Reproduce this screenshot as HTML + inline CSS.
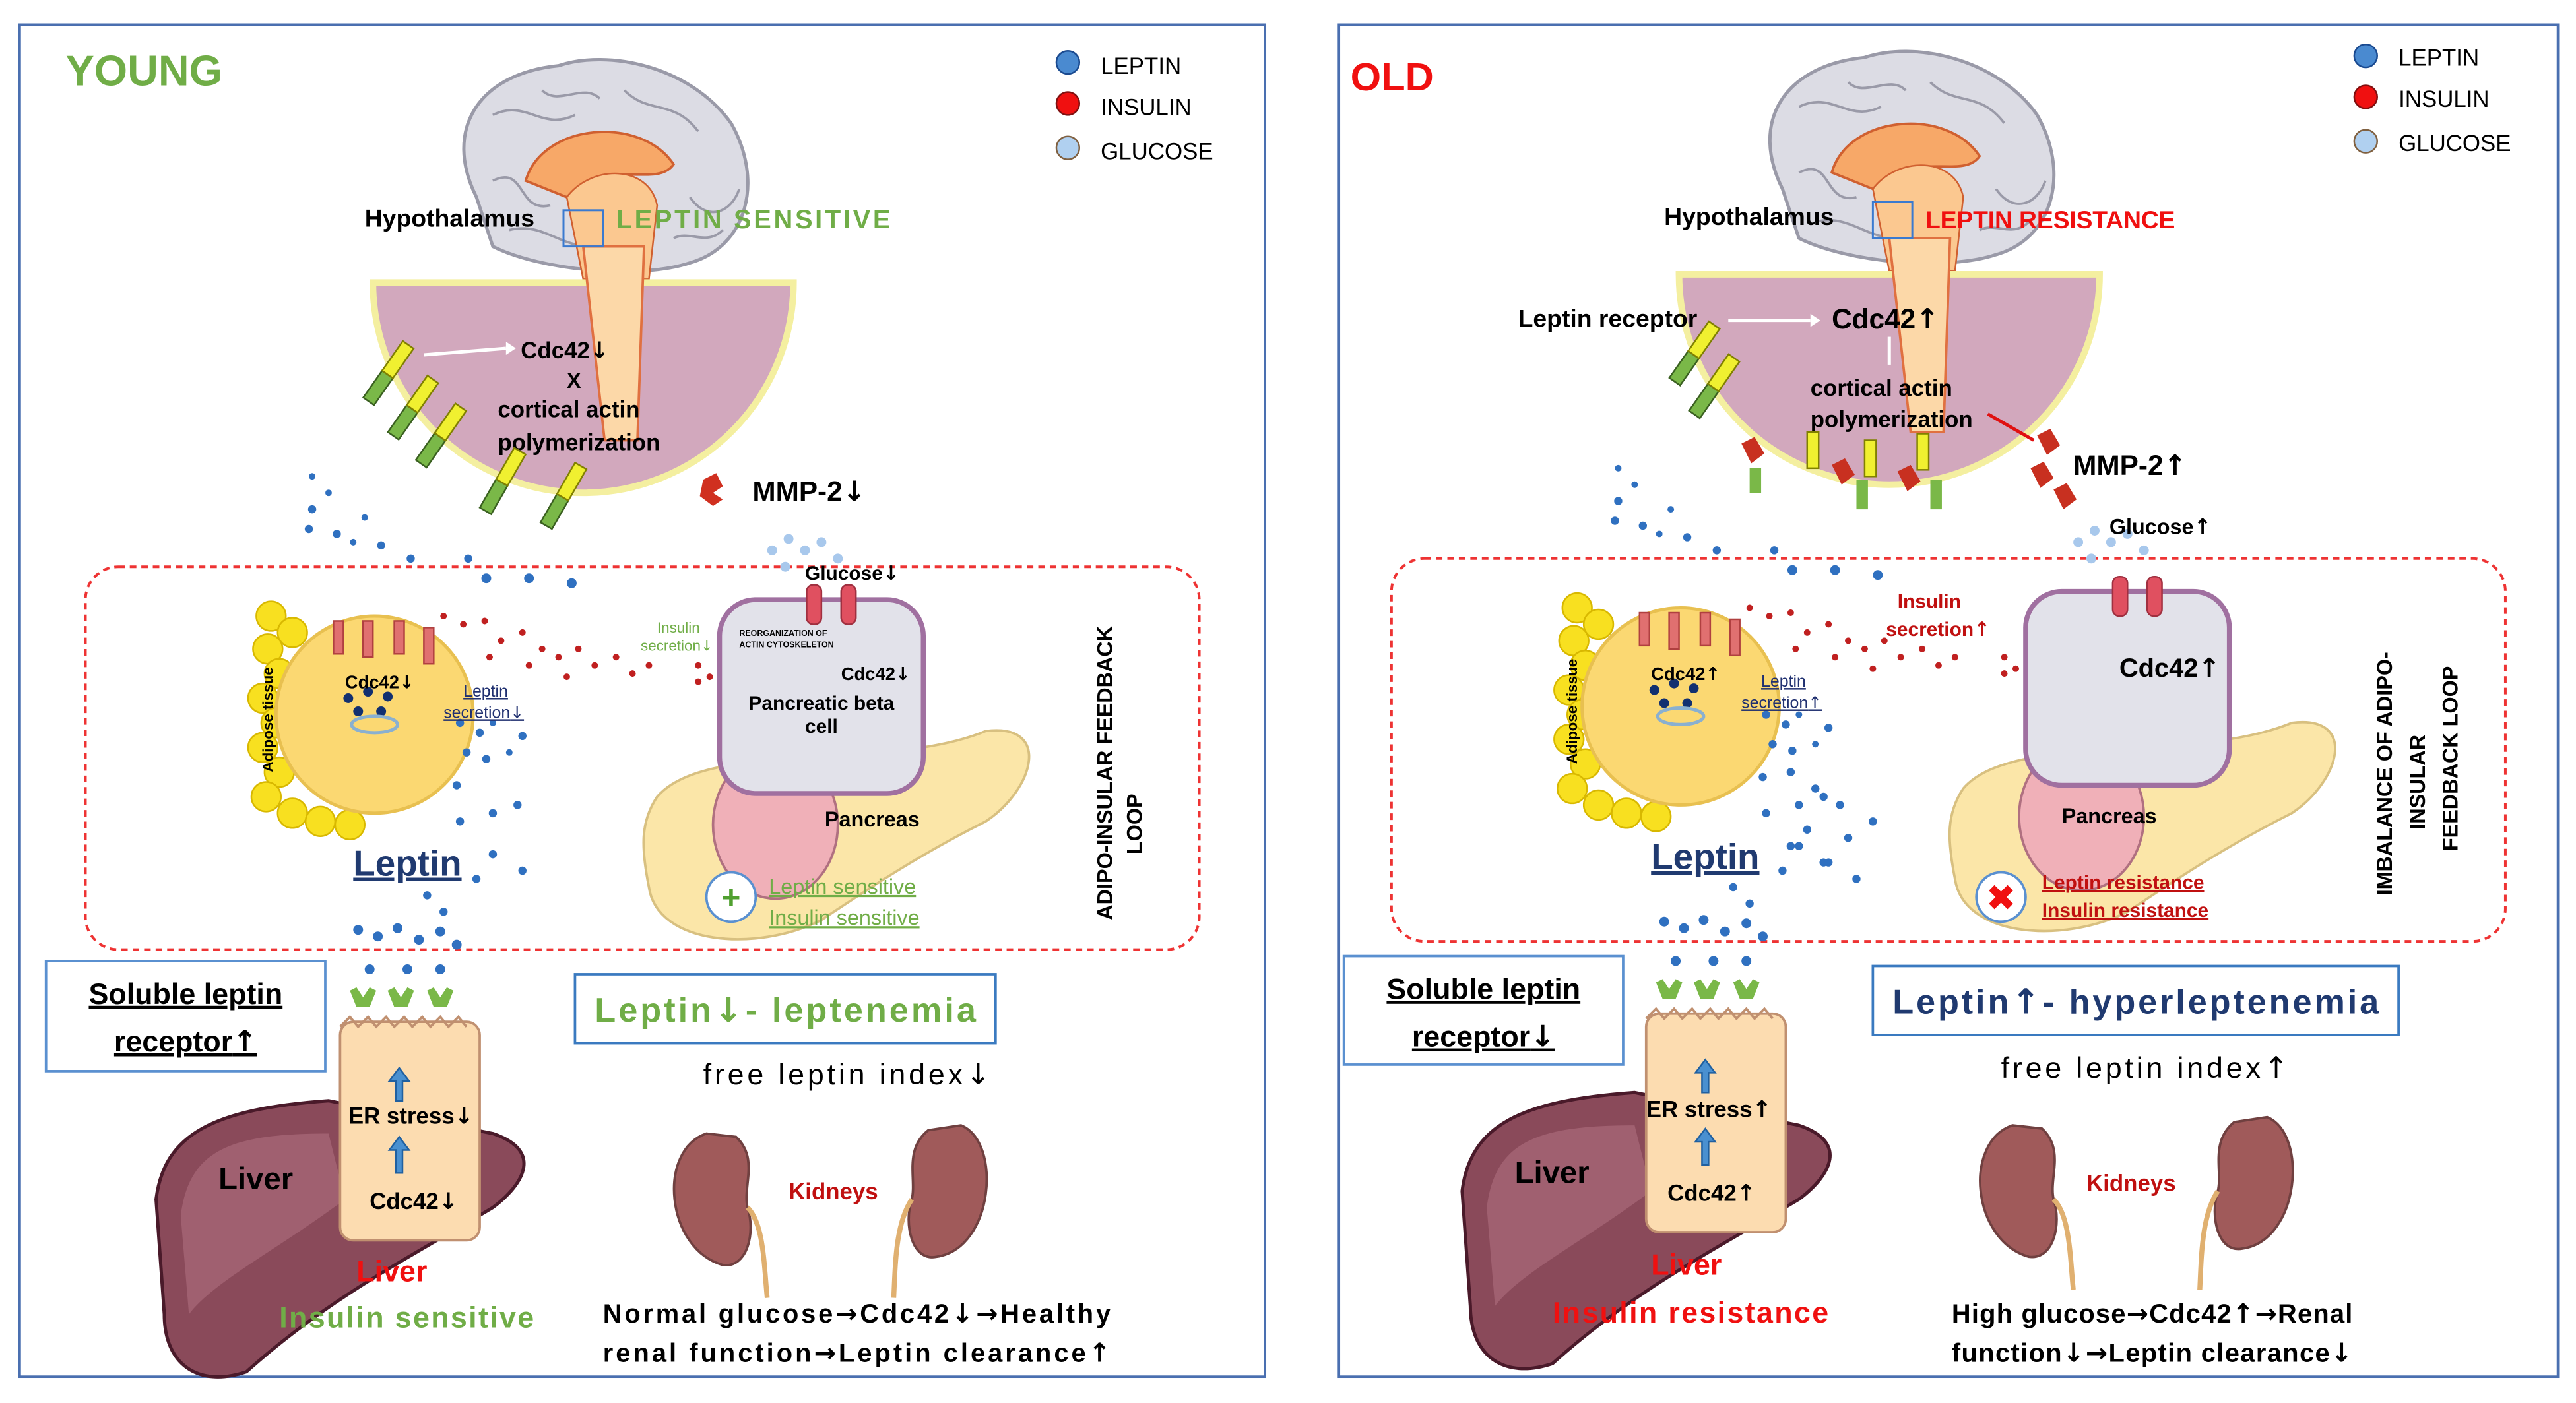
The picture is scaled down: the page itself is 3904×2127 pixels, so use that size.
<!DOCTYPE html>
<html><head><meta charset="utf-8"><style>
html,body{margin:0;padding:0;background:#fff}
svg{display:block}
text{font-family:"Liberation Sans Narrow","Liberation Sans",sans-serif}
.b{font-weight:bold}
.a{font-family:"DejaVu Sans",sans-serif}
</style></head><body>
<svg width="3904" height="2127" viewBox="0 0 1568 854" preserveAspectRatio="none" xmlns="http://www.w3.org/2000/svg">
<rect width="1568" height="854" fill="#fff"/>
<defs>
<g id="scene">
  <path d="M290,120 C270,80 290,45 340,40 C370,30 420,40 445,75 C465,110 455,150 420,160 C390,170 330,165 300,150 Z" fill="#dcdce4" stroke="#9a9aa8" stroke-width="2"/>
  <path d="M300,70 C320,60 330,80 350,70 M380,55 C395,70 410,60 425,80 M300,110 C320,100 315,130 335,125 M420,120 C430,135 445,130 450,115 M310,140 C330,135 340,150 360,150 M330,55 C340,65 355,50 365,60 M410,145 C420,140 430,150 440,140" stroke="#9a9aa8" fill="none" stroke-width="1.5"/>
  <path d="M320,110 C330,75 390,70 410,100 C400,115 370,95 345,120 Z" fill="#f7a868" stroke="#d06030" stroke-width="1.5"/>
  <path d="M345,120 C360,100 395,100 400,125 L395,170 L355,170 Z" fill="#fbc890" stroke="#d06030" stroke-width="1"/>
  <path d="M227,172 A128,128 0 0 0 483,172 Z" fill="#d2a8bd" stroke="#f4efa0" stroke-width="4"/>
  <path d="M355,150 L392,150 L388,268 L368,268 Z" fill="#fcd8a8" stroke="#e07040" stroke-width="1.5"/>
  <rect x="52" y="345" width="678" height="233" rx="20" fill="none" stroke="#e33" stroke-width="1.6" stroke-dasharray="4,3"/>
  <g fill="#f8e020" stroke="#d8b800" stroke-width="1">
    <circle cx="165" cy="375" r="9"/><circle cx="178" cy="385" r="9"/><circle cx="163" cy="395" r="9"/><circle cx="170" cy="410" r="9"/><circle cx="160" cy="425" r="9"/><circle cx="168" cy="440" r="9"/><circle cx="160" cy="455" r="9"/><circle cx="170" cy="470" r="9"/><circle cx="162" cy="485" r="9"/><circle cx="178" cy="495" r="9"/><circle cx="195" cy="500" r="9"/><circle cx="213" cy="502" r="9"/>
  </g>
  <circle cx="228" cy="435" r="60" fill="#fbd872" stroke="#e8c050" stroke-width="2"/>
  <g fill="#e07070" stroke="#b04040" stroke-width="1"><rect x="203" y="378" width="6" height="20"/><rect x="221" y="378" width="6" height="22"/><rect x="240" y="378" width="6" height="20"/><rect x="258" y="382" width="6" height="22"/></g>
  <g fill="#123070"><circle cx="212" cy="425" r="3"/><circle cx="224" cy="421" r="3"/><circle cx="236" cy="424" r="3"/><circle cx="218" cy="433" r="3"/><circle cx="232" cy="433" r="3"/></g>
  <ellipse cx="228" cy="441" rx="14" ry="5" fill="none" stroke="#8ab0d0" stroke-width="2"/>
  <path d="M400,485 C430,450 540,470 600,445 C640,440 630,480 600,500 C560,520 530,540 500,560 C460,580 400,575 395,540 C390,515 390,500 400,485 Z" fill="#fbe6a8" stroke="#d8c080" stroke-width="1.5"/>
  <ellipse cx="472" cy="502" rx="38" ry="45" fill="#f0b0b8" stroke="#b07080" stroke-width="1.5"/>
  <rect x="438" y="365" width="124" height="118" rx="22" fill="#e2e2ea" stroke="#a070a0" stroke-width="3"/>
  <g fill="#e05060" stroke="#a03040"><rect x="491" y="356" width="9" height="24" rx="4"/><rect x="512" y="356" width="9" height="24" rx="4"/></g>
  <path d="M95,730 C100,690 130,675 200,670 L300,690 C330,700 320,720 300,735 C250,765 200,790 150,835 C120,845 100,830 100,800 Z" fill="#8a4a5a" stroke="#4a1a2a" stroke-width="2"/>
  <path d="M110,740 C115,700 140,690 200,690 L210,730 C170,760 130,780 115,800 Z" fill="#a06070"/>
  <rect x="207" y="622" width="85" height="133" rx="8" fill="#fcdcb0" stroke="#c09070" stroke-width="1.5"/>
  <path d="M207,625 l6,-6 l5,6 l6,-6 l5,6 l6,-6 l5,6 l6,-6 l5,6 l6,-6 l5,6 l6,-6 l5,6 l6,-6 l5,6" fill="none" stroke="#c09070" stroke-width="1.5"/>
  <g fill="#4a90d0" stroke="#2060a0"><path d="M243,650 l-6,8 h4 v12 h4 v-12 h4 z"/><path d="M243,692 l-6,8 h4 v14 h4 v-14 h4 z"/></g>
  <g fill="#7ab848"><path d="M213,603 l4,10 l8,0 l4,-10 l-4,-2 l-4,6 l-4,-6z"/><path d="M236,603 l4,10 l8,0 l4,-10 l-4,-2 l-4,6 l-4,-6z"/><path d="M260,603 l4,10 l8,0 l4,-10 l-4,-2 l-4,6 l-4,-6z"/></g>
  <path d="M430,690 C400,700 405,760 440,770 C455,772 460,750 455,735 C452,722 462,705 448,692 Z" fill="#a05a5a" stroke="#704040" stroke-width="1.5"/>
  <path d="M585,685 C610,695 605,760 570,765 C555,768 550,745 555,730 C558,718 550,700 565,688 Z" fill="#a05a5a" stroke="#704040" stroke-width="1.5"/>
  <path d="M455,735 C465,745 465,770 467,790" stroke="#e0b070" stroke-width="3" fill="none"/>
  <path d="M555,730 C545,745 545,770 544,790" stroke="#e0b070" stroke-width="3" fill="none"/>
  <g fill="#2f70c0">
    <circle cx="190" cy="310" r="2.5"/><circle cx="200" cy="300" r="2"/><circle cx="188" cy="322" r="2.5"/><circle cx="205" cy="325" r="2.5"/><circle cx="215" cy="330" r="2"/><circle cx="232" cy="332" r="2.5"/><circle cx="190" cy="290" r="2"/><circle cx="222" cy="315" r="2"/><circle cx="250" cy="340" r="2.5"/><circle cx="296" cy="352" r="3"/><circle cx="322" cy="352" r="3"/><circle cx="348" cy="355" r="3"/><circle cx="285" cy="340" r="2.5"/>
    <circle cx="280" cy="440" r="2.5"/><circle cx="292" cy="446" r="2.5"/><circle cx="300" cy="440" r="2"/><circle cx="284" cy="458" r="2.5"/><circle cx="296" cy="462" r="2.5"/><circle cx="310" cy="458" r="2"/><circle cx="318" cy="448" r="2.5"/><circle cx="278" cy="478" r="2.5"/><circle cx="300" cy="495" r="2.5"/><circle cx="315" cy="490" r="2.5"/><circle cx="280" cy="500" r="2.5"/><circle cx="300" cy="520" r="2.5"/><circle cx="318" cy="530" r="2.5"/><circle cx="290" cy="535" r="2.5"/><circle cx="260" cy="545" r="2.5"/><circle cx="270" cy="555" r="2.5"/>
    <circle cx="218" cy="566" r="3"/><circle cx="230" cy="570" r="3"/><circle cx="242" cy="565" r="3"/><circle cx="255" cy="572" r="3"/><circle cx="268" cy="567" r="3"/><circle cx="278" cy="575" r="3"/><circle cx="225" cy="590" r="3"/><circle cx="248" cy="590" r="3"/><circle cx="268" cy="590" r="3"/>
  </g>
  <g fill="#c02020">
    <circle cx="270" cy="375" r="2"/><circle cx="282" cy="380" r="2"/><circle cx="295" cy="378" r="2"/><circle cx="305" cy="390" r="2"/><circle cx="318" cy="385" r="2"/><circle cx="330" cy="395" r="2"/><circle cx="340" cy="400" r="2"/><circle cx="352" cy="395" r="2"/><circle cx="362" cy="405" r="2"/><circle cx="375" cy="400" r="2"/><circle cx="385" cy="410" r="2"/><circle cx="298" cy="400" r="2"/><circle cx="322" cy="405" r="2"/><circle cx="345" cy="412" r="2"/><circle cx="395" cy="405" r="2"/><circle cx="425" cy="405" r="2"/><circle cx="432" cy="412" r="2"/><circle cx="425" cy="415" r="2"/>
  </g>
  <g fill="#a8c8ec"><circle cx="470" cy="335" r="3"/><circle cx="480" cy="328" r="3"/><circle cx="490" cy="335" r="3"/><circle cx="500" cy="330" r="3"/><circle cx="478" cy="345" r="3"/><circle cx="510" cy="340" r="3"/></g>
</g>
</defs>

<rect x="12" y="15" width="758" height="823" fill="none" stroke="#4a6fb0" stroke-width="1.5"/>
<rect x="815" y="15" width="742" height="823" fill="none" stroke="#4a6fb0" stroke-width="1.5"/>

<use href="#scene"/>
<use href="#scene" transform="translate(795,-5)"/>

<text x="40" y="52" font-size="26" class="b" fill="#70ad47">YOUNG</text>
<circle cx="650" cy="38" r="7" fill="#4a8ad0" stroke="#1a4a90"/><text x="670" y="45" font-size="14">LEPTIN</text>
<circle cx="650" cy="63" r="7" fill="#f01010" stroke="#801010"/><text x="670" y="70" font-size="14">INSULIN</text>
<circle cx="650" cy="90" r="7" fill="#b0d0f0" stroke="#806040"/><text x="670" y="97" font-size="14">GLUCOSE</text>
<text x="222" y="138" font-size="15" class="b">Hypothalamus</text>
<rect x="343" y="128" width="24" height="22" fill="none" stroke="#3a7ad0" stroke-width="1.2"/>
<text x="375" y="139" font-size="16" class="b" fill="#70ad47" textLength="167">LEPTIN SENSITIVE</text>
<line x1="258" y1="216" x2="308" y2="212" stroke="#fff" stroke-width="2"/><path d="M308,208 l6,4 l-6,4z" fill="#fff"/>
<text x="317" y="218" font-size="14" class="b">Cdc42<tspan class="a">↓</tspan></text>
<text x="345" y="236" font-size="13" class="b">X</text>
<text x="303" y="254" font-size="14" class="b">cortical actin</text>
<text x="303" y="274" font-size="14" class="b">polymerization</text>
<g>
 <g transform="translate(233,232) rotate(-55)"><rect x="-15" y="-4" width="20" height="8" fill="#7ab848" stroke="#3a6020"/><rect x="5" y="-4" width="22" height="8" fill="#f0f030" stroke="#808000"/></g>
 <g transform="translate(248,253) rotate(-55)"><rect x="-15" y="-4" width="20" height="8" fill="#7ab848" stroke="#3a6020"/><rect x="5" y="-4" width="22" height="8" fill="#f0f030" stroke="#808000"/></g>
 <g transform="translate(265,270) rotate(-55)"><rect x="-15" y="-4" width="20" height="8" fill="#7ab848" stroke="#3a6020"/><rect x="5" y="-4" width="22" height="8" fill="#f0f030" stroke="#808000"/></g>
 <g transform="translate(303,298) rotate(-60)"><rect x="-15" y="-4" width="20" height="8" fill="#7ab848" stroke="#3a6020"/><rect x="5" y="-4" width="22" height="8" fill="#f0f030" stroke="#808000"/></g>
 <g transform="translate(340,307) rotate(-60)"><rect x="-15" y="-4" width="20" height="8" fill="#7ab848" stroke="#3a6020"/><rect x="5" y="-4" width="22" height="8" fill="#f0f030" stroke="#808000"/></g>
</g>
<path d="M428,292 l8,-4 l4,8 l-6,4 l6,4 l-6,4 l-8,-6z" fill="#d03020"/>
<text x="458" y="305" font-size="17" class="b">MMP-2<tspan class="a">↓</tspan></text>
<text x="490" y="353" font-size="12" class="b">Glucose<tspan class="a">↓</tspan></text>
<text x="400" y="385" font-size="9" fill="#70ad47">Insulin</text>
<text x="390" y="396" font-size="9" fill="#70ad47">secretion<tspan class="a">↓</tspan></text>
<text x="450" y="387" font-size="5" class="b">REORGANIZATION OF</text>
<text x="450" y="394" font-size="5" class="b">ACTIN CYTOSKELETON</text>
<text x="512" y="414" font-size="11" class="b">Cdc42<tspan class="a">↓</tspan></text>
<text x="500" y="432" font-size="12" class="b" text-anchor="middle">Pancreatic beta</text>
<text x="500" y="446" font-size="12" class="b" text-anchor="middle">cell</text>
<text x="502" y="503" font-size="13" class="b">Pancreas</text>
<circle cx="445" cy="546" r="15" fill="#fff" stroke="#5a90d0" stroke-width="1.5"/>
<text x="445" y="553" font-size="20" class="b" fill="#50a030" text-anchor="middle">+</text>
<text x="468" y="544" font-size="13" fill="#70ad47" text-decoration="underline">Leptin sensitive</text>
<text x="468" y="563" font-size="13" fill="#70ad47" text-decoration="underline">Insulin sensitive</text>
<text x="210" y="419" font-size="11" class="b">Cdc42<tspan class="a">↓</tspan></text>
<text x="282" y="424" font-size="10" fill="#203070" text-decoration="underline">Leptin</text>
<text x="270" y="437" font-size="10" fill="#203070" text-decoration="underline">secretion<tspan class="a">↓</tspan></text>
<text transform="translate(166,470) rotate(-90)" font-size="9" class="b">Adipose tissue</text>
<text transform="translate(677,560) rotate(-90)" font-size="13" class="b">ADIPO-INSULAR FEEDBACK</text>
<text transform="translate(695,520) rotate(-90)" font-size="13" class="b">LOOP</text>
<text x="215" y="533" font-size="22" class="b" fill="#203a70" text-decoration="underline">Leptin</text>
<rect x="28" y="585" width="170" height="67" fill="#fff" stroke="#5a90d0" stroke-width="1.5"/>
<text x="113" y="611" font-size="18" class="b" text-anchor="middle" text-decoration="underline">Soluble leptin</text>
<text x="113" y="640" font-size="18" class="b" text-anchor="middle" text-decoration="underline">receptor<tspan class="a">↑</tspan></text>
<text x="212" y="684" font-size="14" class="b">ER stress<tspan class="a">↓</tspan></text>
<text x="225" y="736" font-size="14" class="b">Cdc42<tspan class="a">↓</tspan></text>
<text x="133" y="724" font-size="19" class="b">Liver</text>
<text x="217" y="780" font-size="18" class="b" fill="#f01010">Liver</text>
<text x="170" y="808" font-size="18" class="b" fill="#70ad47" textLength="155">Insulin sensitive</text>
<rect x="350" y="593" width="256" height="42" fill="#fff" stroke="#3a7ac0" stroke-width="1.5"/>
<text x="362" y="622" font-size="21" class="b" fill="#70ad47" textLength="232">Leptin<tspan class="a">↓</tspan>- leptenemia</text>
<text x="428" y="660" font-size="18" textLength="175">free leptin index<tspan class="a">↓</tspan></text>
<text x="480" y="730" font-size="14" class="b" fill="#c01010">Kidneys</text>
<text x="367" y="805" font-size="16" class="b" textLength="309">Normal glucose<tspan class="a">→</tspan>Cdc42<tspan class="a">↓→</tspan>Healthy</text>
<text x="367" y="829" font-size="16" class="b" textLength="309">renal function<tspan class="a">→</tspan>Leptin clearance<tspan class="a">↑</tspan></text>

<text x="822" y="55" font-size="24" class="b" fill="#f01010">OLD</text>
<circle cx="1440" cy="34" r="7" fill="#4a8ad0" stroke="#1a4a90"/><text x="1460" y="40" font-size="14">LEPTIN</text>
<circle cx="1440" cy="59" r="7" fill="#f01010" stroke="#801010"/><text x="1460" y="65" font-size="14">INSULIN</text>
<circle cx="1440" cy="86" r="7" fill="#b0d0f0" stroke="#806040"/><text x="1460" y="92" font-size="14">GLUCOSE</text>
<text x="1013" y="137" font-size="15" class="b">Hypothalamus</text>
<rect x="1140" y="123" width="24" height="22" fill="none" stroke="#3a7ad0" stroke-width="1.2"/>
<text x="1172" y="139" font-size="15" class="b" fill="#f01010" textLength="152">LEPTIN RESISTANCE</text>
<text x="924" y="199" font-size="15" class="b">Leptin receptor</text>
<line x1="1052" y1="195" x2="1102" y2="195" stroke="#fff" stroke-width="2"/><path d="M1102,191 l6,4 l-6,4z" fill="#fff"/>
<text x="1115" y="200" font-size="17" class="b">Cdc42<tspan class="a">↑</tspan></text>
<line x1="1150" y1="205" x2="1150" y2="222" stroke="#fff" stroke-width="2"/>
<text x="1102" y="241" font-size="14" class="b">cortical actin</text>
<text x="1102" y="260" font-size="14" class="b">polymerization</text>
<line x1="1210" y1="252" x2="1238" y2="268" stroke="#e01010" stroke-width="2"/>
<g>
 <g transform="translate(1028,220) rotate(-55)"><rect x="-15" y="-4" width="20" height="8" fill="#7ab848" stroke="#3a6020"/><rect x="5" y="-4" width="22" height="8" fill="#f0f030" stroke="#808000"/></g>
 <g transform="translate(1040,240) rotate(-55)"><rect x="-15" y="-4" width="20" height="8" fill="#7ab848" stroke="#3a6020"/><rect x="5" y="-4" width="22" height="8" fill="#f0f030" stroke="#808000"/></g>
 <rect x="1100" y="263" width="7" height="22" fill="#f0f030" stroke="#808000"/>
 <rect x="1135" y="268" width="7" height="22" fill="#f0f030" stroke="#808000"/>
 <rect x="1167" y="264" width="7" height="22" fill="#f0f030" stroke="#808000"/>
 <rect x="1130" y="292" width="7" height="18" fill="#7ab848"/><rect x="1175" y="292" width="7" height="18" fill="#7ab848"/><rect x="1065" y="285" width="7" height="15" fill="#7ab848"/>
</g>
<g fill="#c83020"><path d="M1060,270 l8,-4 l6,10 l-8,6z"/><path d="M1115,283 l8,-4 l6,10 l-8,6z"/><path d="M1155,287 l8,-4 l6,10 l-8,6z"/><path d="M1240,265 l8,-4 l6,10 l-8,6z"/><path d="M1236,285 l8,-4 l6,10 l-8,6z"/><path d="M1250,298 l8,-4 l6,10 l-8,6z"/></g>
<text x="1262" y="289" font-size="17" class="b">MMP-2<tspan class="a">↑</tspan></text>
<text x="1284" y="325" font-size="13" class="b">Glucose<tspan class="a">↑</tspan></text>
<text x="1155" y="370" font-size="12" class="b" fill="#c01010">Insulin</text>
<text x="1148" y="387" font-size="12" class="b" fill="#c01010">secretion<tspan class="a">↑</tspan></text>
<text x="1290" y="412" font-size="16" class="b">Cdc42<tspan class="a">↑</tspan></text>
<text x="1005" y="414" font-size="11" class="b">Cdc42<tspan class="a">↑</tspan></text>
<text x="1072" y="418" font-size="10" fill="#203070" text-decoration="underline">Leptin</text>
<text x="1060" y="431" font-size="10" fill="#203070" text-decoration="underline">secretion<tspan class="a">↑</tspan></text>
<text transform="translate(960,465) rotate(-90)" font-size="9" class="b">Adipose tissue</text>
<g fill="#2f70c0"><circle cx="1090" cy="470" r="2.5"/><circle cx="1105" cy="480" r="2.5"/><circle cx="1120" cy="490" r="2.5"/><circle cx="1100" cy="505" r="2.5"/><circle cx="1125" cy="510" r="2.5"/><circle cx="1140" cy="500" r="2.5"/><circle cx="1110" cy="525" r="2.5"/><circle cx="1130" cy="535" r="2.5"/><circle cx="1090" cy="515" r="2.5"/></g>
<text x="1255" y="501" font-size="13" class="b">Pancreas</text>
<circle cx="1218" cy="546" r="15" fill="#fff" stroke="#5a90d0" stroke-width="1.5"/>
<text x="1218" y="554" font-size="22" class="b a" fill="#f01010" text-anchor="middle">✖</text>
<text x="1243" y="541" font-size="12" class="b" fill="#c01010" text-decoration="underline">Leptin resistance</text>
<text x="1243" y="558" font-size="12" class="b" fill="#c01010" text-decoration="underline">Insulin resistance</text>
<text transform="translate(1456,545) rotate(-90)" font-size="13" class="b">IMBALANCE OF ADIPO-</text>
<text transform="translate(1476,505) rotate(-90)" font-size="13" class="b">INSULAR</text>
<text transform="translate(1496,518) rotate(-90)" font-size="13" class="b">FEEDBACK LOOP</text>
<text x="1005" y="529" font-size="22" class="b" fill="#203a70" text-decoration="underline">Leptin</text>
<rect x="818" y="582" width="170" height="66" fill="#fff" stroke="#5a90d0" stroke-width="1.5"/>
<text x="903" y="608" font-size="18" class="b" text-anchor="middle" text-decoration="underline">Soluble leptin</text>
<text x="903" y="637" font-size="18" class="b" text-anchor="middle" text-decoration="underline">receptor<tspan class="a">↓</tspan></text>
<text x="1002" y="680" font-size="14" class="b">ER stress<tspan class="a">↑</tspan></text>
<text x="1015" y="731" font-size="14" class="b">Cdc42<tspan class="a">↑</tspan></text>
<text x="922" y="720" font-size="19" class="b">Liver</text>
<text x="1005" y="776" font-size="18" class="b" fill="#f01010">Liver</text>
<text x="945" y="805" font-size="18" class="b" fill="#f01010" textLength="168">Insulin resistance</text>
<rect x="1140" y="588" width="320" height="42" fill="#fff" stroke="#3a7ac0" stroke-width="1.5"/>
<text x="1152" y="617" font-size="21" class="b" fill="#203a70" textLength="296">Leptin<tspan class="a">↑</tspan>- hyperleptenemia</text>
<text x="1218" y="656" font-size="18" textLength="175">free leptin index<tspan class="a">↑</tspan></text>
<text x="1270" y="725" font-size="14" class="b" fill="#c01010">Kidneys</text>
<text x="1188" y="805" font-size="16" class="b" textLength="244">High glucose<tspan class="a">→</tspan>Cdc42<tspan class="a">↑→</tspan>Renal</text>
<text x="1188" y="829" font-size="16" class="b" textLength="244">function<tspan class="a">↓→</tspan>Leptin clearance<tspan class="a">↓</tspan></text>
</svg>
</body></html>
